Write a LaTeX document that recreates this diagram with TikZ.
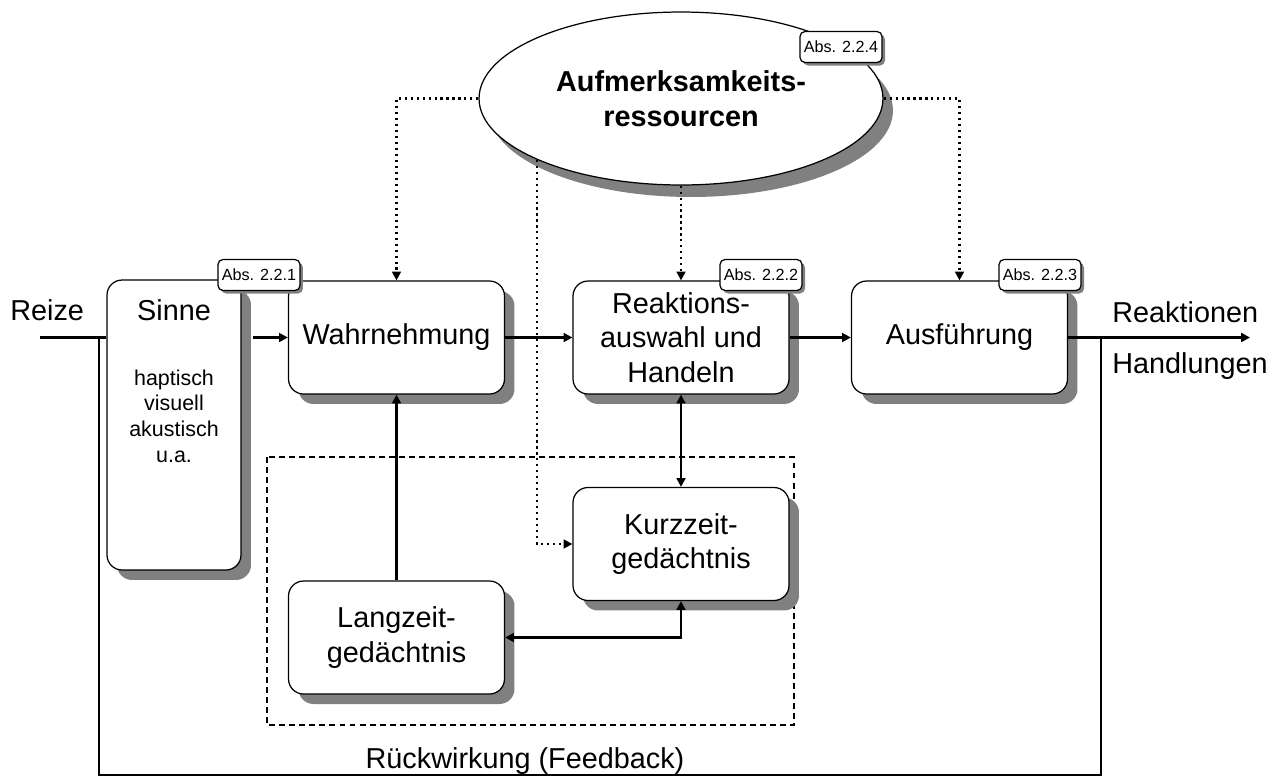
\documentclass[tikz,border=0pt]{standalone}
\usepackage{fontspec}
\setmainfont{Liberation Sans}
\usetikzlibrary{positioning,arrows.meta,shapes.geometric,shadows,calc}

\begin{document}
\begin{tikzpicture}[
    x=0.02cm, y=-0.02cm,
    font=\fontsize{16.4}{19.7}\selectfont,
    box/.style={draw, fill=white, line width=0.7pt, rounded corners=0.3cm, align=center,
      minimum width=4.32cm, minimum height=2.26cm,
      drop shadow={shadow xshift=0.2cm, shadow yshift=-0.2cm, fill=black!50, opacity=1}},
    res/.style={ellipse, draw, fill=white, line width=0.7pt, inner sep=0pt, align=center,
      minimum width=8.08cm, minimum height=3.46cm, font=\bfseries\fontsize{16.4}{19.7}\selectfont,
      drop shadow={shadow xshift=0.2cm, shadow yshift=-0.24cm, fill=black!50, opacity=1}},
    tag/.style={draw, fill=white, line width=0.7pt, rounded corners=0.1cm, inner sep=1pt,
      minimum width=1.64cm, minimum height=0.62cm, font=\fontsize{9.2}{11}\selectfont,
      drop shadow={shadow xshift=0.06cm, shadow yshift=-0.06cm, fill=black!50, opacity=1}},
    txt/.style={inner sep=0pt},
    senses/.style={inner sep=0pt, align=center, font=\fontsize{12.2}{14.6}\selectfont},
    wire/.style={line width=1.3pt},
    con/.style={-{Triangle[length=5pt,width=5pt]}, line width=1.3pt},
    con2/.style={{Triangle[length=5pt,width=5pt]}-{Triangle[length=5pt,width=5pt]}, line width=1.3pt},
    dot/.style={-{Triangle[length=5pt,width=5pt]}, line width=1.2pt, dash pattern=on 1.2pt off 2.2pt},
    frame/.style={line width=0.7pt, dash pattern=on 3.4pt off 2.3pt},
]
  \useasboundingbox (0,0) rectangle (1277,778);
  \draw[frame] (267,457) rectangle (794,725);
  % main chain
  \node[box, minimum width=2.68cm, minimum height=5.8cm] (sinne) at (174,425) {};
  \node[txt, below=0.4cm of sinne.north] (sinnename) {Sinne};
  \node[senses, below=0.96cm of sinnename] (sinnelist) {haptisch\\visuell\\akustisch\\u.a.};
  \node[box] (wahr) at (396.5,337.5) {Wahrnehmung};
  \node[box] (reak) at (681,337.5) {Reaktions-\\auswahl und\\Handeln};
  \node[box] (aus)  at (959.5,337.5) {Ausführung};
  \node[box] (kurz) at (681,544) {Kurzzeit-\\gedächtnis};
  \node[box] (lang) at (396.5,637.5) {Langzeit-\\gedächtnis};
  \node[res] (ell)  at (681,98.5) {Aufmerksamkeits-\\ressourcen};
  \node[tag] (abs1) at (259,275) {Abs. 2.2.1};
  \node[tag] (abs2) at (761,275) {Abs. 2.2.2};
  \node[tag] (abs3) at (1040,275) {Abs. 2.2.3};
  \node[tag] (abs4) at (841,47) {Abs. 2.2.4};
  % free texts
  \node[txt, anchor=base west] (reize) at (10,320) {Reize};
  \node[txt, anchor=base west] (reakt) at (1112,322) {Reaktionen};
  \node[txt, anchor=base west] (handl) at (1112,373) {Handlungen};
  \node[txt, anchor=base] (rueck) at (525,768) {Rückwirkung (Feedback)};
  \coordinate (in)   at (40,337.5);
  \coordinate (out)  at (1250,337.5);
  \coordinate (fb l) at (99,337.5);
  \coordinate (fb r) at (1101,337.5);
  \coordinate (fb b) at (600,775);
  % connectors
  \draw[wire] (in) -- (in -| sinne.west);
  \draw[wire] (fb l) |- (fb b) -| (fb r);
  \draw[con] ($(sinne.east |- wahr.west)+(11,0)$) -- (wahr.west);
  \draw[con] (wahr) -- (reak); \draw[con] (reak) -- (aus);
  \draw[con] (aus.east) -- (out);
  \draw[con] (lang) -- (wahr);
  \draw[con2] (reak) -- (kurz);
  \draw[con2] (kurz.south) |- (lang.east);
  \draw[dot] (ell.west) -| (wahr.north);
  \draw[dot] (ell.east) -| (aus.north);
  \draw[dot] (ell.south) -- (reak.north);
  \draw[dot] (ell.203.4) |- (kurz.west);
\end{tikzpicture}
\end{document}
